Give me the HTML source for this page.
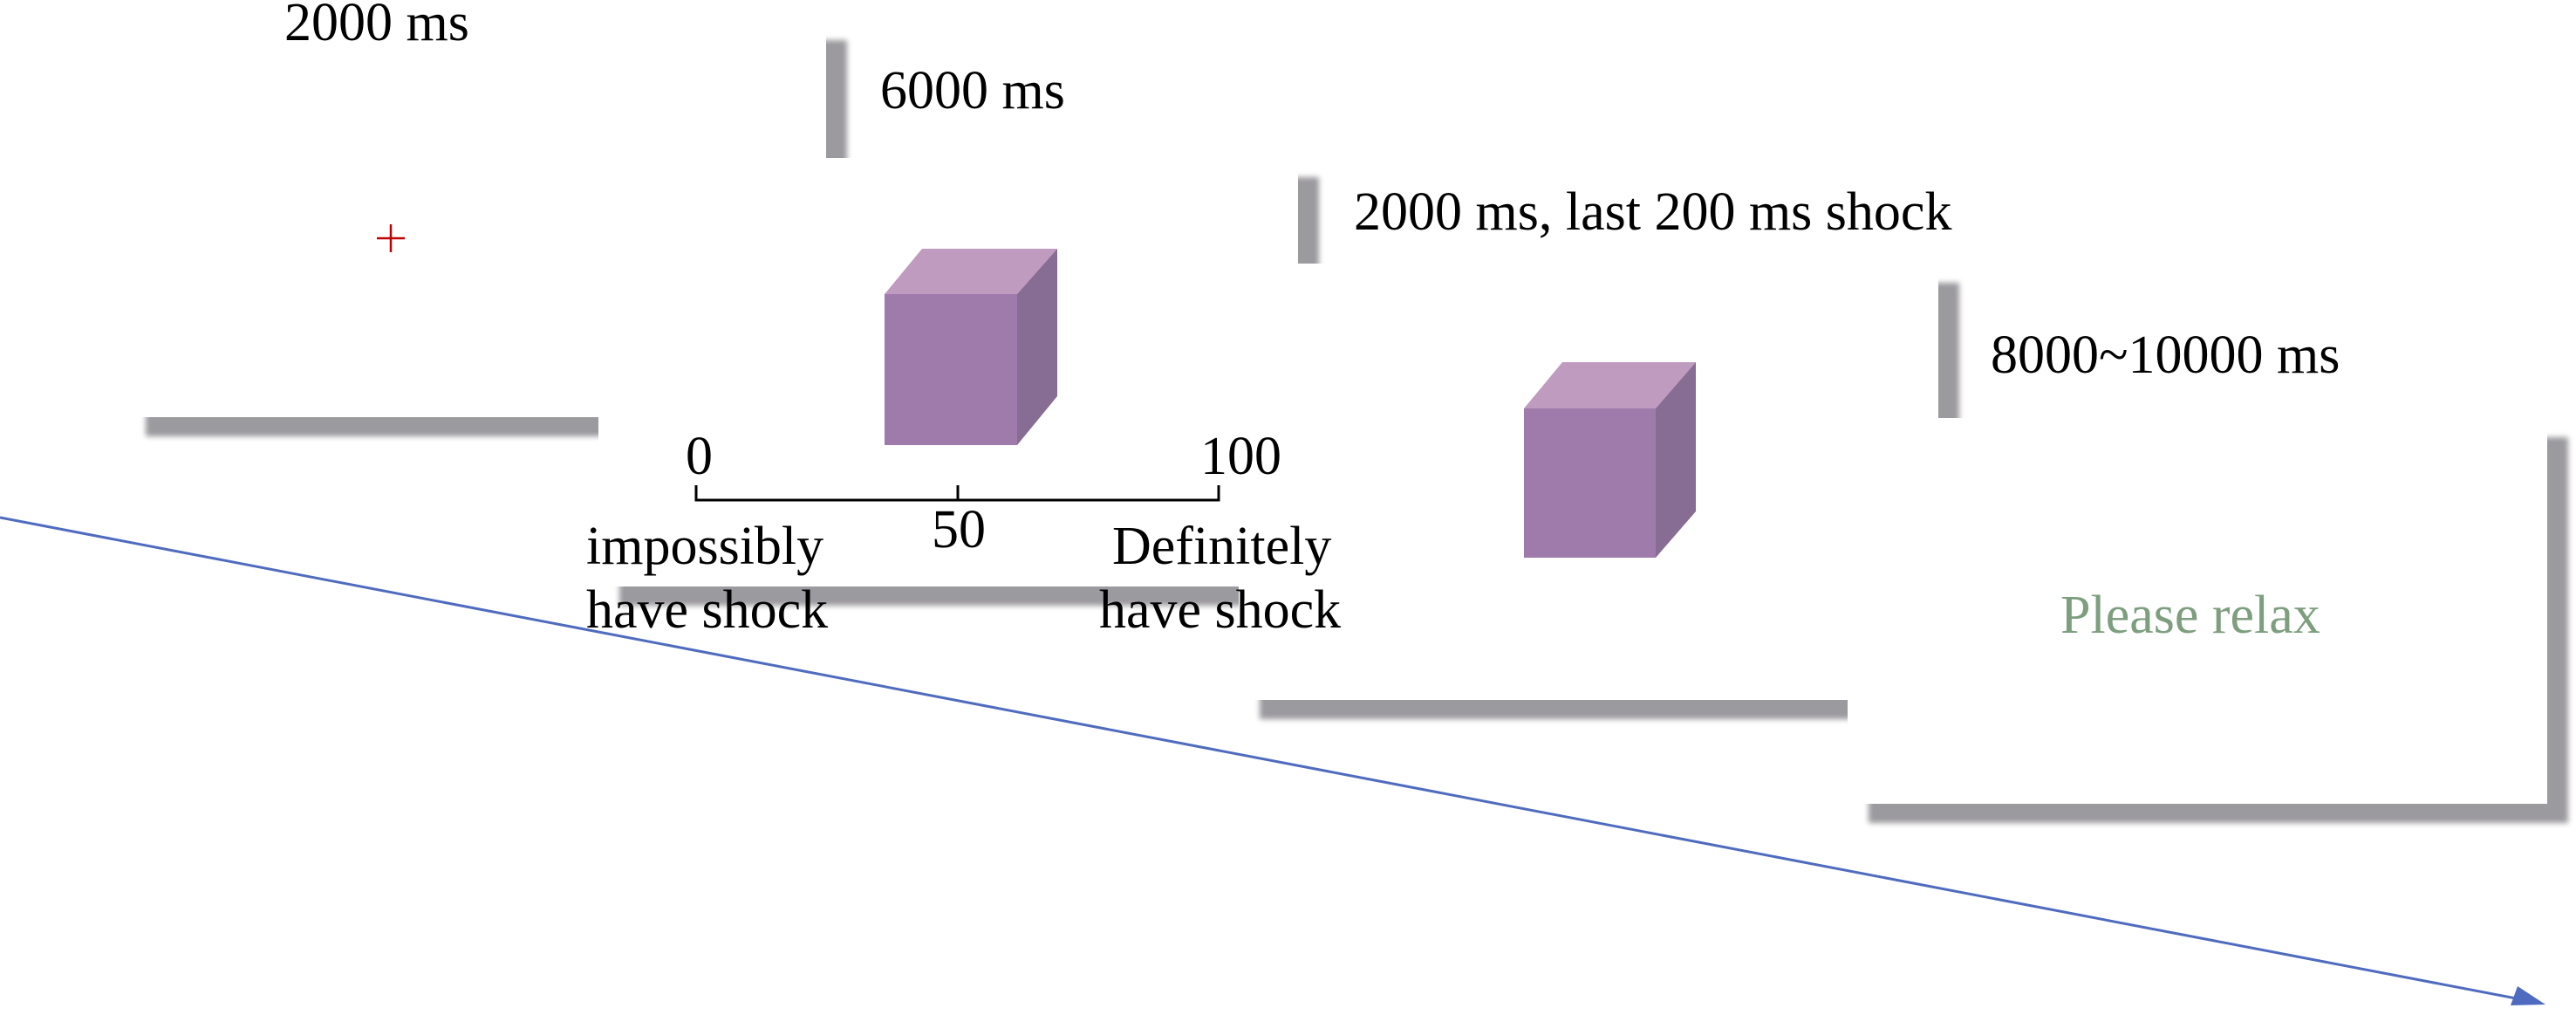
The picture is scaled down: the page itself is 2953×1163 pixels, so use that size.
<!DOCTYPE html>
<html><head><style>
html,body{margin:0;padding:0;background:#fff;}
#c{position:relative;width:2953px;height:1163px;overflow:hidden;background:#fff;font-family:"Liberation Serif",serif;}
.s{position:absolute;background:#fff;box-shadow:24px 22px 6px #9b9a9f;}
.t{position:absolute;font-size:62px;line-height:62px;white-space:nowrap;color:#000;}
</style></head><body><div id="c">
<div class="s" style="left:143px;top:24px;width:804px;height:454px;"></div>
<div class="s" style="left:686px;top:181px;width:802px;height:491px;"></div>
<div class="s" style="left:1420px;top:302px;width:802px;height:500px;"></div>
<div class="s" style="left:2118px;top:479px;width:802px;height:442px;"></div>

<svg style="position:absolute;left:0;top:0" width="2953" height="1163">
  <line x1="432" y1="273" x2="464" y2="273" stroke="#c00000" stroke-width="2.5"/>
  <line x1="448" y1="257" x2="448" y2="289" stroke="#c00000" stroke-width="2.5"/>
  <polygon points="1014,337 1057,285 1212,285 1166,337" fill="#bf9bbf"/>
  <polygon points="1166,337 1212,285 1212,454 1166,510" fill="#876c93"/>
  <rect x="1014" y="337" width="152" height="173" fill="#9e7bab"/>
  <polygon points="1747,468 1791,415 1944,415 1898,468" fill="#bf9bbf"/>
  <polygon points="1898,468 1944,415 1944,586 1898,639" fill="#876c93"/>
  <rect x="1747" y="468" width="151" height="171" fill="#9e7bab"/>
  <polyline points="798,556 798,573 1397,573 1397,556" fill="none" stroke="#000" stroke-width="3"/>
  <line x1="1098" y1="556" x2="1098" y2="573" stroke="#000" stroke-width="3"/>
  <line x1="0" y1="593" x2="2900" y2="1147" stroke="#4f6bbf" stroke-width="3"/>
  <polygon points="2918,1151 2878,1152 2886,1130" fill="#4f6bbf"/>
</svg>

<div class="t" style="left:326px;top:-5px;">2000 ms</div>
<div class="t" style="left:1009px;top:73px;">6000 ms</div>
<div class="t" style="left:1552px;top:212px;">2000 ms, last 200 ms shock</div>
<div class="t" style="left:2282px;top:376px;">8000~10000 ms</div>
<div class="t" style="left:786px;top:492px;">0</div>
<div class="t" style="left:1376px;top:492px;">100</div>
<div class="t" style="left:1068px;top:576px;">50</div>
<div class="t" style="left:672px;top:595px;">impossibly</div>
<div class="t" style="left:672px;top:668px;">have shock</div>
<div class="t" style="left:1275px;top:595px;">Definitely</div>
<div class="t" style="left:1260px;top:668px;">have shock</div>
<div class="t" style="left:2362px;top:674px;color:#7d9e7f;">Please relax</div>
</div></body></html>
